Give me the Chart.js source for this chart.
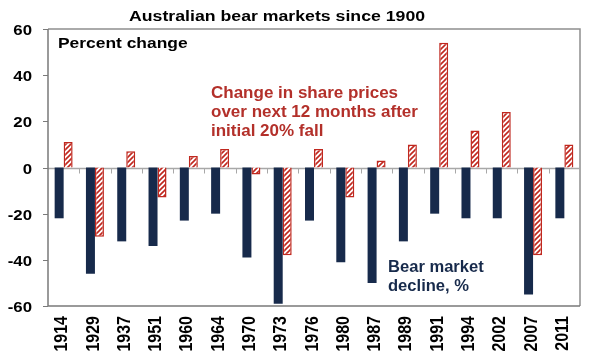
<!DOCTYPE html>
<html>
<head>
<meta charset="utf-8">
<script src="https://cdn.jsdelivr.net/npm/chart.js@4/dist/chart.umd.min.js"></script>
<style>
html,body{margin:0;padding:0;background:#fff;}
#wrap{width:600px;height:356px;position:relative;}
</style>
</head>
<body>
<div id="wrap"><canvas id="c" width="600" height="356"></canvas></div>
<script>
const years = ['1914','1929','1937','1951','1960','1964','1970','1973','1976','1980','1987','1989','1991','1994','2002','2007','2011'];
const bearDecline = [-22,-46,-32,-34,-23,-20,-39,-59,-23,-41,-50,-32,-20,-22,-22,-55,-22];
const nextYearChange = [11,-30,7,-13,5,8,-3,-38,8,-13,3,10,54,16,24,-38,10];
const yTickValues = [-60,-40,-20,0,20,40,60];

const NAVY = '#172a4b';
const RED = '#c0281f';
const FONT = '"Liberation Sans", Arial, sans-serif';

function hatch(){
  const s = 5;
  const c = document.createElement('canvas');
  c.width = s; c.height = s;
  const g = c.getContext('2d');
  g.fillStyle = '#fff'; g.fillRect(0,0,s,s);
  g.strokeStyle = RED; g.lineWidth = 1.6;
  g.beginPath();
  g.moveTo(-1, s+1); g.lineTo(s+1, -1);
  g.moveTo(-1, 1); g.lineTo(1, -1);
  g.moveTo(s-1, s+1); g.lineTo(s+1, s-1);
  g.stroke();
  return g.createPattern(c,'repeat');
}

function txt(ctx, s, x, y, size, sx, color, align){
  ctx.save();
  ctx.font = 'bold '+size+'px '+FONT;
  ctx.fillStyle = color;
  ctx.textAlign = align || 'left';
  ctx.translate(x, y);
  ctx.scale(sx, 1);
  ctx.fillText(s, 0, 0);
  ctx.restore();
}

const extras = {
  id:'extras',
  beforeDatasetsDraw(chart){
    const {ctx, chartArea:a, scales:{x,y}} = chart;
    ctx.save();
    // top & right border
    ctx.strokeStyle = '#8f8f8f'; ctx.lineWidth = 1.5;
    ctx.beginPath();
    ctx.moveTo(a.left, a.top); ctx.lineTo(a.right, a.top); ctx.lineTo(a.right, a.bottom);
    ctx.stroke();
    // zero line and ticks
    const y0 = Math.round(y.getPixelForValue(0))+0.5;
    ctx.strokeStyle = '#a8a8a8'; ctx.lineWidth = 1.5;
    ctx.beginPath(); ctx.moveTo(a.left, y0); ctx.lineTo(a.right, y0); ctx.stroke();
    ctx.lineWidth = 1;
    ctx.beginPath();
    for(let i=1;i<years.length;i++){
      const px = Math.round((x.getPixelForValue(i-1)+x.getPixelForValue(i))/2)+0.5;
      ctx.moveTo(px, y0); ctx.lineTo(px, y0+5);
    }
    ctx.stroke();
    ctx.restore();
  },
  afterDraw(chart){
    const {ctx, chartArea:a, scales:{x,y}} = chart;
    ctx.save();
    // left & bottom axes
    ctx.strokeStyle = '#7a7a7a'; ctx.lineWidth = 1.5;
    ctx.beginPath();
    ctx.moveTo(a.left, a.top); ctx.lineTo(a.left, a.bottom); ctx.lineTo(a.right, a.bottom);
    ctx.stroke();
    // y ticks + labels
    ctx.lineWidth = 1;
    ctx.textBaseline = 'middle';
    for(const v of yTickValues){
      const py = Math.round(y.getPixelForValue(v))+0.5;
      ctx.beginPath(); ctx.moveTo(a.left-5, py); ctx.lineTo(a.left, py); ctx.stroke();
      txt(ctx, String(v), a.left-16, py+1, 15, 1.12, '#000', 'right');
    }
    // x labels rotated
    ctx.textBaseline = 'middle';
    years.forEach((lab,i)=>{
      const px = x.getPixelForValue(i) - 1.5;
      ctx.save();
      ctx.translate(px, a.bottom + 10);
      ctx.scale(1.15, 1);
      ctx.rotate(-Math.PI/2);
      ctx.font = 'bold 16px '+FONT;
      ctx.fillStyle = '#000';
      ctx.textAlign = 'right';
      ctx.fillText(lab, 0, 0);
      ctx.restore();
    });
    ctx.textBaseline = 'alphabetic';
    txt(ctx, 'Australian bear markets since 1900', 129, 21, 15, 1.18, '#000');
    txt(ctx, 'Percent change', 58, 48, 15, 1.16, '#000');
    txt(ctx, 'Change in share prices', 211, 98, 17, 1.0, '#b3302a');
    txt(ctx, 'over next 12 months after', 211, 117, 17, 1.0, '#b3302a');
    txt(ctx, 'initial 20% fall', 211, 136, 17, 1.0, '#b3302a');
    txt(ctx, 'Bear market', 388, 272, 16, 1.035, NAVY);
    txt(ctx, 'decline, %', 388, 291, 16, 1.035, NAVY);
    ctx.restore();
  }
};

new Chart(document.getElementById('c'), {
  type:'bar',
  data:{
    labels: years,
    datasets:[
      {label:'Bear market decline, %', data: bearDecline, backgroundColor: NAVY, borderColor:'#0f1d38', borderWidth:0},
      {label:'Change in share prices over next 12 months', data: nextYearChange, backgroundColor: hatch(), borderColor: RED, borderWidth:1.5}
    ]
  },
  options:{
    responsive:false,
    animation:false,
    layout:{padding:{top:29,right:20,bottom:50,left:48}},
    plugins:{legend:{display:false}, title:{display:false}, tooltip:{enabled:false}},
    datasets:{bar:{categoryPercentage:0.575, barPercentage:1.0}},
    scales:{
      x:{display:false},
      y:{display:false, min:-60, max:60}
    }
  },
  plugins:[extras]
});
</script>
</body>
</html>
